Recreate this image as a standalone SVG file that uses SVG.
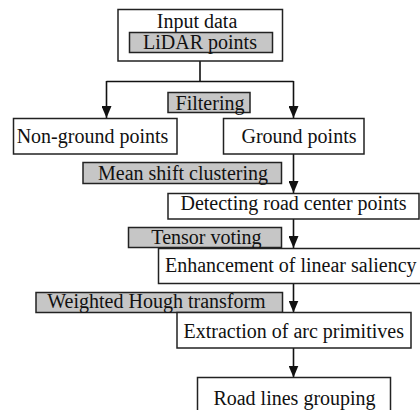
<svg xmlns="http://www.w3.org/2000/svg" width="420" height="410" viewBox="0 0 420 410">
<defs>
<marker id="arr" viewBox="0 0 12 10" refX="12" refY="5" markerWidth="12" markerHeight="10" markerUnits="userSpaceOnUse" orient="auto">
<path d="M0,0 L12,5 L0,10 Z" fill="#111"/>
</marker>
</defs>
<style>
.box{fill:#fff;stroke:#222;stroke-width:1.5}
.lab{fill:#c6c6c6;stroke:#222;stroke-width:1.5}
.t{font-family:'Liberation Serif','Times New Roman',serif;font-size:20px;fill:#111}
.c{text-anchor:middle}
.con{fill:none;stroke:#111;stroke-width:1.6}
</style>
<rect width="420" height="410" fill="#fff"/>
<g id="connectors">
<path class="con" d="M200,61 V81.5 M106.5,81.5 H293.5"/>
<path class="con" d="M106.5,81 V118" marker-end="url(#arr)"/>
<path class="con" d="M293.5,81 V118" marker-end="url(#arr)"/>
<path class="con" d="M293.5,154 V193" marker-end="url(#arr)"/>
<path class="con" d="M293.5,219 V248" marker-end="url(#arr)"/>
<path class="con" d="M293.5,283 V312.5" marker-end="url(#arr)"/>
<path class="con" d="M293.5,348 V377.5" marker-end="url(#arr)"/>
</g>
<g font-family="Liberation Serif, Times New Roman, serif" font-size="20">
<g id="input">
<rect class="box" x="118" y="9.5" width="164.5" height="51.5"/>
<text class="t c" x="197" y="27.5">Input data</text>
<rect class="lab" x="129.5" y="32.5" width="143" height="20"/>
<text class="t c" x="200" y="49">LiDAR points</text>
</g>
<g id="filtering">
<rect class="lab" x="168" y="92.5" width="82" height="20"/>
<text class="t c" x="210" y="109.5">Filtering</text>
</g>
<g id="nonground">
<rect class="box" x="13.5" y="118.5" width="163.5" height="35.5"/>
<text class="t c" x="92.5" y="143">Non-ground points</text>
</g>
<g id="ground">
<rect class="box" x="223.5" y="118.5" width="140.5" height="35.5"/>
<text class="t c" x="299" y="143">Ground points</text>
</g>
<g id="meanshift">
<rect class="lab" x="83" y="162.5" width="198.5" height="21"/>
<text class="t c" x="183" y="179.5">Mean shift clustering</text>
</g>
<g id="detecting">
<rect class="box" x="168" y="193.5" width="251" height="25.5"/>
<text class="t c" x="293.5" y="209.5">Detecting road center points</text>
</g>
<g id="tensor">
<rect class="lab" x="128.5" y="227.5" width="153" height="20"/>
<text class="t c" x="206.5" y="243.5">Tensor voting</text>
</g>
<g id="enhancement">
<rect class="box" x="158.5" y="248.5" width="270" height="35"/>
<text class="t" x="165" y="271.5">Enhancement of linear saliency</text>
</g>
<g id="hough">
<rect class="lab" x="36" y="292.5" width="246.5" height="20"/>
<text class="t c" x="156.5" y="307.5">Weighted Hough transform</text>
</g>
<g id="extraction">
<rect class="box" x="177" y="312.5" width="234" height="35.5"/>
<text class="t c" x="293.7" y="337.5">Extraction of arc primitives</text>
</g>
<g id="roadlines">
<rect class="box" x="197.5" y="377.5" width="193" height="40"/>
<text class="t c" x="294.5" y="405">Road lines grouping</text>
</g>
</g>
</svg>
